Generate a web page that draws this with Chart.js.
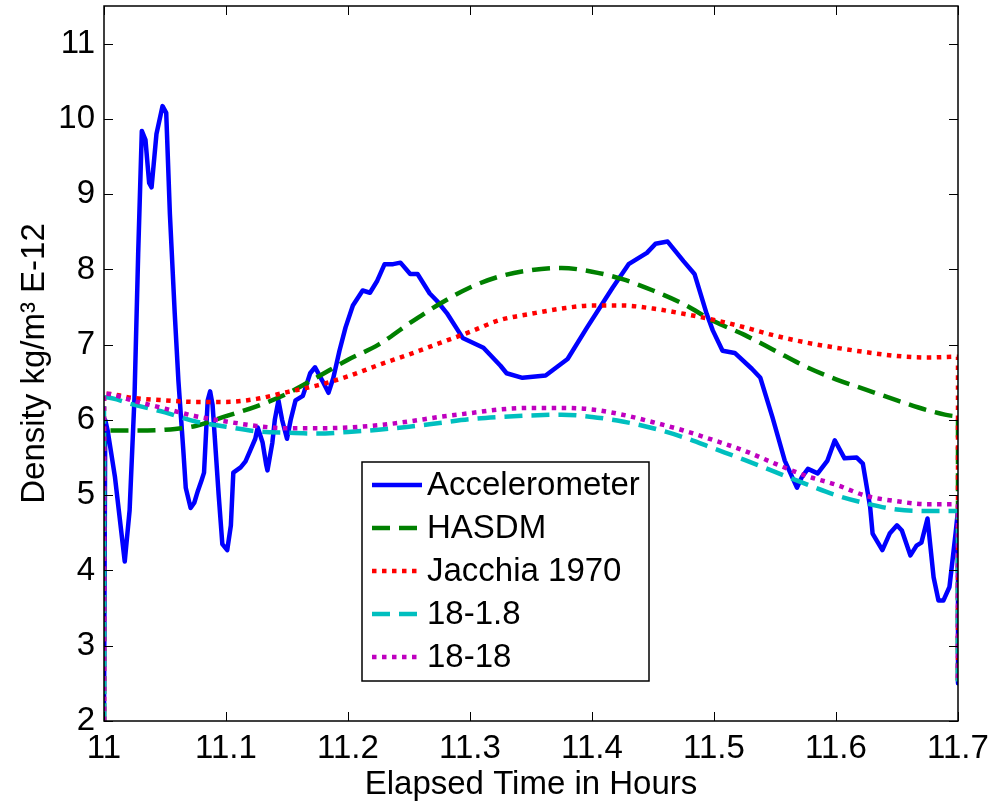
<!DOCTYPE html>
<html lang="en">
<head>
<meta charset="UTF-8">
<title>Density vs Elapsed Time</title>
<script src="https://cdn.jsdelivr.net/npm/chart.js"></script>
<style>
  html, body { margin: 0; padding: 0; background: #fff; }
  #wrap { width: 998px; height: 802px; }
</style>
</head>
<body>
<div id="wrap"><canvas id="chart" width="998" height="802"></canvas></div>
<script>
// model curves share one time grid; first/last entries are the edge drops
const modelTime = [11.0, 11.0, 11.025, 11.05, 11.075, 11.1, 11.125, 11.15, 11.175, 11.2, 11.225,
  11.25, 11.275, 11.3, 11.325, 11.35, 11.375, 11.4, 11.425, 11.45, 11.475, 11.5, 11.525,
  11.55, 11.575, 11.6, 11.625, 11.65, 11.675, 11.7, 11.7];
const hasdm = [2, 5.86, 5.86, 5.87, 5.92, 6.05, 6.18, 6.35, 6.57, 6.8, 7.0, 7.28, 7.54, 7.76, 7.91,
  7.99, 8.02, 7.97, 7.87, 7.72, 7.54, 7.31, 7.13, 6.92, 6.71, 6.54, 6.4, 6.26, 6.13, 6.05, 2.5];
const jacchia = [2, 6.35, 6.29, 6.26, 6.24, 6.24, 6.28, 6.37, 6.46, 6.58, 6.73, 6.87, 7.02, 7.17, 7.33,
  7.41, 7.48, 7.52, 7.52, 7.48, 7.41, 7.33, 7.23, 7.12, 7.03, 6.96, 6.9, 6.85, 6.83, 6.84, 2.5];
const m18_1_8 = [2, 6.3, 6.2, 6.1, 5.98, 5.91, 5.85, 5.83, 5.82, 5.84, 5.87, 5.91, 5.96, 6.01, 6.04,
  6.06, 6.07, 6.04, 5.98, 5.89, 5.77, 5.62, 5.47, 5.31, 5.15, 5.0, 4.89, 4.81, 4.79, 4.79, 2.5];
const m18_18 = [2, 6.35, 6.25, 6.15, 6.05, 5.98, 5.92, 5.89, 5.89, 5.9, 5.93, 5.98, 6.04, 6.09, 6.14,
  6.16, 6.16, 6.14, 6.07, 5.97, 5.86, 5.73, 5.59, 5.42, 5.26, 5.14, 4.99, 4.92, 4.88, 4.88, 2.5];

const accelTime = [11.000, 11.001, 11.003, 11.009, 11.017, 11.021, 11.025, 11.028, 11.031, 11.034,
  11.037, 11.039, 11.043, 11.048, 11.051, 11.054, 11.058, 11.061, 11.065, 11.067, 11.071, 11.074,
  11.077, 11.080, 11.082, 11.085, 11.087, 11.089, 11.094, 11.097, 11.101, 11.104, 11.106, 11.112,
  11.116, 11.120, 11.124, 11.126, 11.130, 11.133, 11.134, 11.138, 11.140, 11.143, 11.146, 11.150,
  11.153, 11.157, 11.163, 11.169, 11.173, 11.179, 11.184, 11.188, 11.193, 11.198, 11.204, 11.212,
  11.218, 11.224, 11.230, 11.237, 11.243, 11.251, 11.257, 11.267, 11.273, 11.281, 11.294, 11.311,
  11.325, 11.330, 11.343, 11.362, 11.380, 11.396, 11.417, 11.430, 11.445, 11.452, 11.462, 11.475,
  11.484, 11.494, 11.499, 11.507, 11.517, 11.531, 11.538, 11.548, 11.558, 11.568, 11.572, 11.577,
  11.585, 11.593, 11.599, 11.607, 11.617, 11.622, 11.628, 11.630, 11.638, 11.644, 11.650, 11.654,
  11.661, 11.666, 11.670, 11.675, 11.680, 11.684, 11.688, 11.693, 11.698, 11.700, 11.700];
const accel = [2.0, 6.0, 5.86, 5.24, 4.12, 4.8, 6.3, 8.2, 9.84, 9.72,
  9.15, 9.09, 9.8, 10.17, 10.08, 8.74, 7.41, 6.52, 5.6, 5.1, 4.83, 4.9,
  5.06, 5.2, 5.3, 6.26, 6.38, 6.2, 5.0, 4.35, 4.27, 4.6, 5.3, 5.37,
  5.45, 5.6, 5.75, 5.9, 5.7, 5.4, 5.33, 5.7, 6.0, 6.26, 6.0, 5.75,
  6.0, 6.26, 6.32, 6.62, 6.70, 6.52, 6.36, 6.56, 6.92, 7.23, 7.52, 7.72,
  7.69, 7.85, 8.07, 8.07, 8.09, 7.94, 7.94, 7.68, 7.58, 7.42, 7.09, 6.96,
  6.72, 6.62, 6.56, 6.59, 6.81, 7.23, 7.76, 8.07, 8.22, 8.34, 8.37, 8.11,
  7.94, 7.41, 7.19, 6.92, 6.89, 6.68, 6.56, 6.03, 5.46, 5.1, 5.24, 5.35,
  5.29, 5.46, 5.73, 5.49, 5.5, 5.42, 4.84, 4.49, 4.27, 4.49, 4.6, 4.53,
  4.2, 4.33, 4.37, 4.69, 3.91, 3.6, 3.6, 3.78, 4.49, 4.8, 2.5];

const xTicks = [11, 11.1, 11.2, 11.3, 11.4, 11.5, 11.6, 11.7];
const yTicks = [2, 3, 4, 5, 6, 7, 8, 9, 10, 11];

const FONT = "'Liberation Sans', Arial, sans-serif";

function pts(xs, ys) {
  return xs.map((x, i) => ({ x: x, y: ys[i] }));
}

// box round the plot with inward ticks on all four sides
const boxPlugin = {
  id: 'box',
  afterDatasetsDraw(chart) {
    const { ctx, chartArea: a, scales } = chart;
    const tl = 9;
    ctx.save();
    ctx.strokeStyle = '#000';
    ctx.lineWidth = 1;
    ctx.beginPath();
    xTicks.forEach(v => {
      const px = Math.round(scales.x.getPixelForValue(v)) + 0.5;
      ctx.moveTo(px, a.bottom); ctx.lineTo(px, a.bottom - tl);
      ctx.moveTo(px, a.top); ctx.lineTo(px, a.top + tl);
    });
    yTicks.forEach(v => {
      const py = Math.round(scales.y.getPixelForValue(v)) + 0.5;
      ctx.moveTo(a.left, py); ctx.lineTo(a.left + tl, py);
      ctx.moveTo(a.right, py); ctx.lineTo(a.right - tl, py);
    });
    ctx.stroke();
    ctx.lineWidth = 1.5;
    ctx.strokeRect(Math.round(a.left), Math.round(a.top), Math.round(a.right - a.left), Math.round(a.bottom - a.top));
    ctx.restore();
  }
};

const legendPlugin = {
  id: 'boxLegend',
  afterDatasetsDraw(chart) {
    const ctx = chart.ctx;
    const x0 = 362, y0 = 462, w = 287, h = 219;
    ctx.save();
    ctx.fillStyle = '#fff';
    ctx.fillRect(x0, y0, w, h);
    ctx.strokeStyle = '#000';
    ctx.lineWidth = 1.5;
    ctx.strokeRect(x0, y0, w, h);
    ctx.font = '33px ' + FONT;
    ctx.textBaseline = 'middle';
    chart.data.datasets.forEach((ds, i) => {
      const y = y0 + 23 + i * 43;
      ctx.strokeStyle = ds.borderColor;
      ctx.lineWidth = ds.borderWidth;
      ctx.lineCap = 'butt';
      ctx.setLineDash(ds.borderDash || []);
      ctx.beginPath();
      ctx.moveTo(x0 + 10, y);
      ctx.lineTo(x0 + 60, y);
      ctx.stroke();
      ctx.setLineDash([]);
      ctx.fillStyle = '#000';
      ctx.fillText(ds.label, x0 + 65, y + 1);
    });
    ctx.restore();
  }
};

const dashed = [18, 9];
const dotted = [4.5, 5.5];

new Chart(document.getElementById('chart').getContext('2d'), {
  type: 'line',
  data: {
    datasets: [
      { label: 'Accelerometer', data: pts(accelTime, accel), borderColor: '#0000ff', borderWidth: 4.5, order: 5, tension: 0 },
      { label: 'HASDM', data: pts(modelTime, hasdm), borderColor: '#008000', borderWidth: 4.5, borderDash: dashed, order: 4, cubicInterpolationMode: 'monotone' },
      { label: 'Jacchia 1970', data: pts(modelTime, jacchia), borderColor: '#ff0000', borderWidth: 4.5, borderDash: dotted, order: 3, cubicInterpolationMode: 'monotone' },
      { label: '18-1.8', data: pts(modelTime, m18_1_8), borderColor: '#00bfbf', borderWidth: 4.5, borderDash: dashed, order: 2, cubicInterpolationMode: 'monotone' },
      { label: '18-18', data: pts(modelTime, m18_18), borderColor: '#bf00bf', borderWidth: 4.5, borderDash: dotted, order: 1, cubicInterpolationMode: 'monotone' }
    ]
  },
  options: {
    responsive: false,
    animation: false,
    elements: {
      point: { radius: 0, hoverRadius: 0 },
      line: { borderCapStyle: 'butt', borderJoinStyle: 'round', fill: false }
    },
    layout: { padding: { top: 6, right: 40, left: 0, bottom: 0 } },
    plugins: { legend: { display: false }, tooltip: { enabled: false } },
    scales: {
      x: {
        type: 'linear',
        min: 11, max: 11.7,
        afterBuildTicks: s => { s.ticks = xTicks.map(v => ({ value: v })); },
        afterFit: s => { s.height = 81; s.paddingLeft = 0; s.paddingRight = 0; },
        ticks: {
          callback: v => String(Math.round(v * 10) / 10),
          font: { family: FONT, size: 33 },
          color: '#000',
          padding: 8,
          maxRotation: 0,
          autoSkip: false
        },
        grid: { display: false, drawTicks: false },
        border: { display: false },
        title: {
          display: true,
          text: 'Elapsed Time in Hours',
          font: { family: FONT, size: 33 },
          color: '#000',
          padding: { top: 0, bottom: -3 }
        }
      },
      y: {
        type: 'linear',
        min: 2, max: 11.5,
        afterBuildTicks: s => { s.ticks = yTicks.map(v => ({ value: v })); },
        afterFit: s => { s.width = 104; s.paddingTop = 0; s.paddingBottom = 0; },
        ticks: {
          font: { family: FONT, size: 33 },
          color: '#000',
          padding: 9,
          autoSkip: false
        },
        grid: { display: false, drawTicks: false },
        border: { display: false },
        title: {
          display: true,
          text: 'Density kg/m\u00B3 E-12',
          font: { family: FONT, size: 33 },
          color: '#000',
          padding: { top: 15, bottom: 0 }
        }
      }
    }
  },
  plugins: [boxPlugin, legendPlugin]
});
</script>
</body>
</html>
